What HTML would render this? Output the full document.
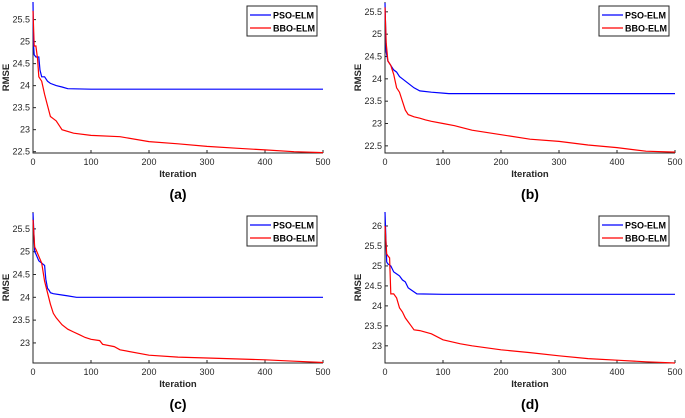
<!DOCTYPE html>
<html><head><meta charset="utf-8"><style>
body{margin:0;background:#fff;width:685px;height:413px;overflow:hidden}
svg{font-family:"Liberation Sans",Arial,sans-serif}
</style></head><body>
<svg id="chart" width="685" height="413"></svg>
<script>
const ticksX=[0,100,200,300,400,500];
const panelLabels=["(a)","(b)","(c)","(d)"];
const yTicksA=[22.5,23,23.5,24,24.5,25,25.5];
const yTicksB=[22.5,23,23.5,24,24.5,25,25.5];
const yTicksC=[23,23.5,24,24.5,25,25.5];
const yTicksD=[23,23.5,24,24.5,25,25.5,26];
const yRangeA=[22.47,25.9];
const yRangeB=[22.34,25.72];
const yRangeC=[22.56,25.87];
const yRangeD=[22.57,26.35];
const psoItersA=[0,1,2,5,10,12,15,20,25,30,40,50,60,100,500];
const psoA=[25.9,24.9,24.7,24.65,24.65,24.35,24.2,24.2,24.1,24.05,24.0,23.97,23.93,23.92,23.92];
const bboItersA=[0,2,5,8,10,15,20,25,30,35,40,45,50,70,100,150,200,250,300,350,400,450,500];
const bboA=[25.7,24.9,24.9,24.6,24.2,24.1,23.8,23.55,23.3,23.25,23.2,23.1,23.0,22.92,22.87,22.84,22.73,22.68,22.62,22.58,22.54,22.5,22.48];
const psoItersB=[0,2,5,10,15,20,25,30,40,50,60,80,100,110,500];
const psoB=[25.7,24.6,24.4,24.3,24.2,24.15,24.05,24.0,23.9,23.8,23.73,23.7,23.68,23.67,23.67];
const bboItersB=[0,2,5,10,15,20,25,30,35,40,50,60,70,80,100,120,150,200,250,300,350,400,450,500];
const bboB=[25.6,24.8,24.4,24.3,24.1,23.8,23.7,23.5,23.3,23.2,23.15,23.12,23.08,23.05,23.0,22.95,22.85,22.75,22.65,22.6,22.52,22.46,22.38,22.36];
const psoItersC=[0,3,5,10,15,20,22,25,28,30,35,50,60,75,500];
const psoC=[25.85,25.0,24.95,24.8,24.75,24.7,24.4,24.2,24.15,24.1,24.08,24.05,24.03,24.0,24.0];
const bboItersC=[0,3,5,10,15,20,25,30,35,40,50,60,70,80,90,100,115,120,140,150,200,250,300,400,450,500];
const bboC=[25.7,25.1,25.05,24.9,24.75,24.35,24.1,23.85,23.65,23.55,23.4,23.3,23.24,23.18,23.12,23.08,23.05,22.97,22.92,22.85,22.73,22.69,22.67,22.63,22.6,22.57];
const psoItersD=[0,3,5,10,15,20,25,30,35,40,45,50,55,100,500];
const psoD=[26.35,25.1,25.05,25.0,24.85,24.8,24.75,24.65,24.6,24.45,24.4,24.35,24.3,24.29,24.29];
const bboItersD=[0,3,5,8,10,15,20,25,30,35,40,45,50,60,80,100,130,150,200,250,300,350,400,450,500];
const bboD=[26.0,25.3,25.25,25.2,24.3,24.3,24.2,23.95,23.85,23.7,23.6,23.5,23.4,23.38,23.3,23.15,23.05,23.0,22.9,22.83,22.75,22.68,22.64,22.6,22.57];

const NS="http://www.w3.org/2000/svg";
const svg=document.getElementById('chart');
function mk(tag,attrs,parent,text){const e=document.createElementNS(NS,tag);for(const k in attrs)e.setAttribute(k,attrs[k]);if(text!==undefined)e.textContent=text;parent.appendChild(e);return e;}

const panels=[
 {ox:0,oy:0,top:2,bottom:153,yt:yTicksA,yr:yRangeA,pi:psoItersA,pv:psoA,bi:bboItersA,bv:bboA},
 {ox:352,oy:0,top:2,bottom:153,yt:yTicksB,yr:yRangeB,pi:psoItersB,pv:psoB,bi:bboItersB,bv:bboB},
 {ox:0,oy:0,top:212,bottom:363,yt:yTicksC,yr:yRangeC,pi:psoItersC,pv:psoC,bi:bboItersC,bv:bboC},
 {ox:352,oy:0,top:212,bottom:363,yt:yTicksD,yr:yRangeD,pi:psoItersD,pv:psoD,bi:bboItersD,bv:bboD}
];
panels.forEach((p,idx)=>{
  const L=33+p.ox,R=323+p.ox,T=p.top,B=p.bottom;
  const g=mk('g',{},svg);
  
  
  const xs=v=>L+(v/500)*(R-L);
  const ys=v=>B-(v-p.yr[0])/(p.yr[1]-p.yr[0])*(B-T);
  // axes
  const ax=mk('path',{d:`M${L},${T}V${B}H${R}`,fill:'none',stroke:'#262626','stroke-width':1},g);
  
  
  ticksX.forEach(t=>{
    mk('line',{x1:xs(t),x2:xs(t),y1:B,y2:B-3,stroke:'#262626'},g);
    const tx=mk('text',{x:xs(t),y:B+12,'font-size':9,'text-anchor':'middle',fill:'#262626'},g,t);
    
    
  });
  p.yt.forEach(t=>{
    mk('line',{x1:L,x2:L+3,y1:ys(t),y2:ys(t),stroke:'#262626'},g);
    const tx=mk('text',{x:L-3,y:ys(t)+3,'font-size':9,'text-anchor':'end',fill:'#262626'},g,t);
    
    
  });
  const xl=mk('text',{x:(L+R)/2,y:B+24,'font-size':9.5,'font-weight':'bold','text-anchor':'middle',fill:'#262626'},g,'Iteration');
  
  
  const yl=mk('text',{x:0,y:0,'font-size':9.5,'font-weight':'bold','text-anchor':'middle',fill:'#262626',transform:`translate(${L-24},${(T+B)/2}) rotate(-90)`},g,'RMSE');
  
  
  const pl=mk('text',{x:(L+R)/2,y:B+46,'font-size':14,'font-weight':'bold','text-anchor':'middle',fill:'#000'},g,panelLabels[idx]);
  
  
  const line=(it,vals,col,name)=>{
    let d='';it.forEach((x,i)=>{d+=(i?'L':'M')+xs(x).toFixed(1)+','+ys(vals[i]).toFixed(1);});
    const e=mk('path',{d,fill:'none',stroke:col,'stroke-width':1.2},g);
    
    
  };
  line(p.pi,p.pv,'#0000ff','pso-elm-line');
  line(p.bi,p.bv,'#ff0000','bbo-elm-line');
  // legend
  const lg=mk('g',{},g);
  
  
  const lx=R-76,ly=T+4;
  mk('rect',{x:lx,y:ly,width:70,height:30,fill:'#fff',stroke:'#262626','stroke-width':1},lg);
  [['PSO-ELM','#0000ff'],['BBO-ELM','#ff0000']].forEach((s,i)=>{
    const yy=ly+9+i*13;
    mk('line',{x1:lx+3,x2:lx+24,y1:yy,y2:yy,stroke:s[1],'stroke-width':1.3},lg);
    const t=mk('text',{x:lx+26,y:yy+3.5,'font-size':9,'font-weight':'bold',fill:'#000'},lg,s[0]);
    
    
  });
});
</script>
</body></html>
